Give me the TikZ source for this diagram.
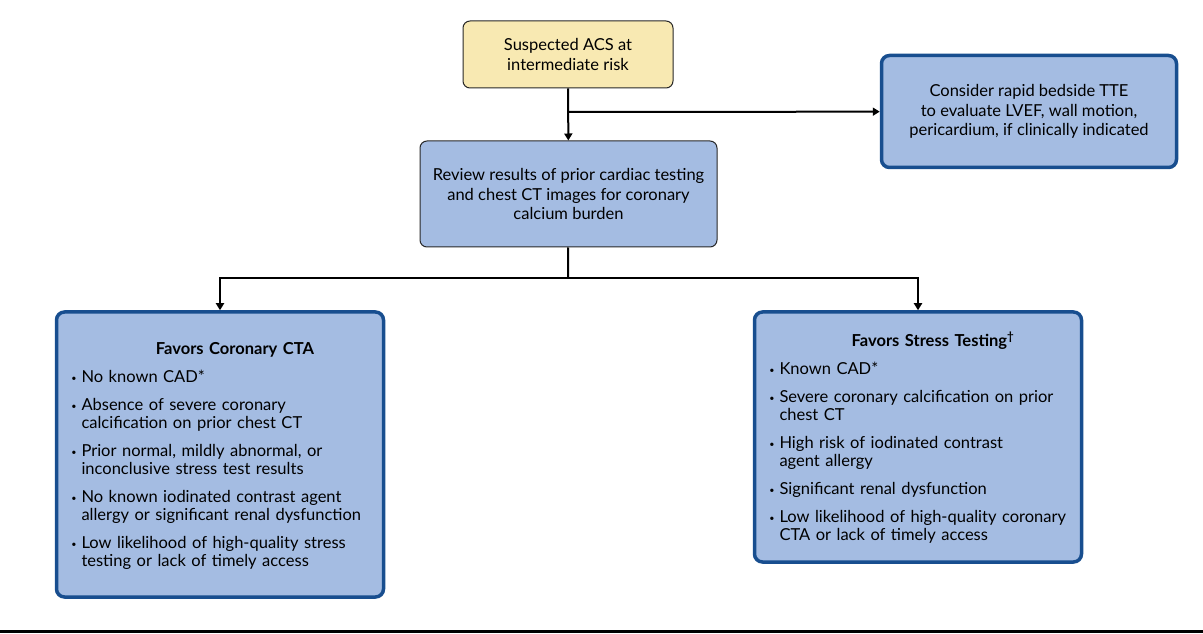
\documentclass[tikz,border=0pt]{standalone}
\usepackage{fontspec}
\setmainfont{Lato}
\usepackage{enumitem}
\usetikzlibrary{arrows.meta}
\definecolor{boxblue}{RGB}{164,188,226}
\definecolor{edgeblue}{RGB}{24,78,143}
\definecolor{paleyellow}{RGB}{248,233,178}
\definecolor{darkline}{RGB}{40,40,40}
\newcommand{\boxfont}{\fontsize{16.5}{19.5}\selectfont}
\newcommand{\listfont}{\fontsize{16.5}{18}\selectfont}
\newcommand{\favtitle}[2]{{\centering\rule{0pt}{#1}\hspace*{30pt}\textbf{#2}\par}}
\tikzset{
  startbox/.style={draw=darkline,fill=paleyellow,rounded corners=7pt,line width=1pt,
    minimum width=210pt,minimum height=67pt,align=center,font=\boxfont},
  reviewbox/.style={draw=darkline,fill=boxblue,rounded corners=7pt,line width=1pt,
    minimum width=297pt,minimum height=106pt,align=center,font=\boxfont},
  ttebox/.style={draw=edgeblue,fill=boxblue,rounded corners=8pt,line width=3.5pt,
    minimum width=295pt,minimum height=112pt,align=center,font=\boxfont},
  favorbox/.style={draw=edgeblue,fill=boxblue,rounded corners=8pt,line width=3.5pt,
    text width=305pt,inner xsep=11pt,inner ysep=0pt,align=left,font=\listfont},
  arrowline/.style={line width=2pt,-{Triangle[length=7pt,width=8pt]}},
  plainline/.style={line width=2pt}
}
\setlist[itemize]{leftmargin=14pt,labelsep=5pt,itemsep=10pt,topsep=10pt,parsep=0pt,partopsep=0pt,
  label={\raisebox{1pt}{\small\textbullet}}}
\begin{document}
\begin{tikzpicture}[x=1pt,y=1pt]
  \useasboundingbox (0,0) rectangle (1203,633);
  % boxes
  \node[startbox] (start) at (568,578.5) {Suspected ACS at\\intermediate risk};
  \node[reviewbox] (review) at (568.5,439) {Review results of prior cardiac testing\\and chest CT images for coronary\\calcium burden};
  \node[ttebox] (tte) at (1029,521.5) {Consider rapid bedside TTE\\to evaluate LVEF, wall motion,\\pericardium, if clinically indicated};
  \node[favorbox,minimum height=285pt] (cta) at (220,178.5) {%
    \favtitle{26pt}{Favors Coronary CTA}
    \begin{itemize}
      \item No known CAD*
      \item Absence of severe coronary\\calcification on prior chest CT
      \item Prior normal, mildly abnormal, or\\inconclusive stress test results
      \item No known iodinated contrast agent\\allergy or significant renal dysfunction
      \item Low likelihood of high-quality stress\\testing or lack of timely access
    \end{itemize}\vspace{-24pt}};
  \node[favorbox,minimum height=250pt] (stress) at (918,196) {%
    \favtitle{26pt}{Favors Stress Testing\textsuperscript{†}}
    \begin{itemize}
      \item Known CAD*
      \item Severe coronary calcification on prior\\chest CT
      \item High risk of iodinated contrast\\agent allergy
      \item Significant renal dysfunction
      \item Low likelihood of high-quality coronary\\CTA or lack of timely access
    \end{itemize}\vspace{-24pt}};
  % connectors
  \coordinate (fork) at (568,521);
  \coordinate (split) at (568,355);
  \draw[arrowline] (start) -- (review);
  \draw[arrowline] (fork) -- (tte);
  \draw[plainline] (review) -- (split);
  \draw[arrowline] (split) -| (cta);
  \draw[arrowline] (split) -| (stress);
  % rule at the foot
  \draw[line width=3pt] (0,1.5) -- (1203,1.5);
\end{tikzpicture}
\end{document}
